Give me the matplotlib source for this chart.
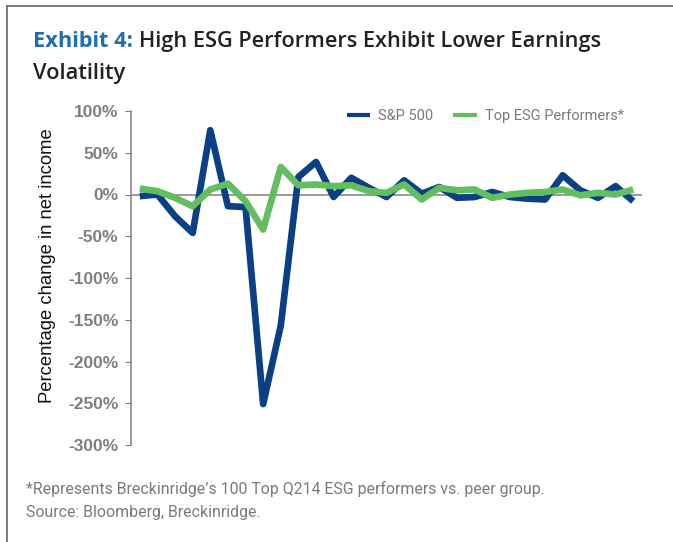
import matplotlib
matplotlib.use("Agg")
import matplotlib.pyplot as plt
from matplotlib.lines import Line2D
import matplotlib.transforms as mtransforms

quarters = list(range(29))
sp500 = [-2, 0, -26, -46, 77, -14, -15, -251, -157, 21, 39, -3, 20, 8, -3, 17,
         1, 9, -4, -3, 3, -3, -5, -6, 23, 5, -4, 10, -8]
esg = [7, 4, -4, -14, 6, 13, -8, -42, 33, 11, 12, 10, 11, 4, 2, 12,
       -6, 8, 5, 6, -4, 0, 2, 3, 6, -1, 2, 0, 6]
yticks = [100, 50, 0, -50, -100, -150, -200, -250, -300]
ytick_labels = [f"{v}%" for v in yticks]

narrow = 'Roboto'

W, H = 673, 542
fig = plt.figure(figsize=(W / 100, H / 100), dpi=100)
fig.patch.set_facecolor('white')

# frame lines (top and left)
fig.add_artist(Line2D([7 / W, 1], [1 - 6 / H, 1 - 6 / H], transform=fig.transFigure,
                      color='#666666', lw=1.2))
fig.add_artist(Line2D([7 / W, 7 / W], [0, 1 - 6 / H], transform=fig.transFigure,
                      color='#666666', lw=1.2))

ax = fig.add_axes([131 / W, (H - 445) / H, (642 - 131) / W, (445 - 111) / H])
blue = '#0B3F86'
green = '#63BE5F'
ax.axhline(0, color='#808080', lw=1.1, zorder=1)
ax.plot(quarters, sp500, color=blue, lw=4.8, solid_joinstyle='round', solid_capstyle='butt',
        label='S&P 500', zorder=2)
ax.plot(quarters, esg, color=green, lw=4.8, solid_joinstyle='round', solid_capstyle='butt',
        label='Top ESG Performers*', zorder=3)
ax.set_xlim(-0.5, 28.5)
ax.set_ylim(-300, 100)
ax.set_yticks(yticks)
ax.set_yticklabels(ytick_labels, fontsize=12.5, fontweight='bold', color='#7f7f7f',
                   family='Liberation Sans')
offset = mtransforms.ScaledTranslation(0, -4 / 100, fig.dpi_scale_trans)
for lab in ax.get_yticklabels():
    lab.set_transform(lab.get_transform() + offset)
ax.set_xticks([])
for s in ['top', 'right', 'bottom']:
    ax.spines[s].set_visible(False)
ax.spines['left'].set_color('#808080')
ax.spines['left'].set_linewidth(1.1)
ax.tick_params(axis='y', length=4, color='#808080', pad=5)
ax.set_ylabel('Percentage change in net income', fontsize=13.3, color='#111111',
              family='Liberation Sans')
ax.yaxis.set_label_coords(-0.147, 0.537)

leg = ax.legend(loc='upper right', bbox_to_anchor=(0.99, 1.045), ncol=2, frameon=False,
                handlelength=1.6, handletextpad=0.55, columnspacing=1.4,
                prop={'family': narrow, 'size': 10.5})
for t in leg.get_texts():
    t.set_color('#7a7a7a')
for l in leg.get_lines():
    l.set_linewidth(3)

# title
tx, ty = 33 / W, 1 - 47 / H
tsize = 15.7
t1 = fig.text(tx, ty, 'Exhibit 4:', color='#1F6DB4', fontsize=tsize, fontweight='bold',
              family='Open Sans', va='baseline')
fig.canvas.draw()
bb = t1.get_window_extent()
fig.text(bb.x1 / W + 6 / W, ty, 'High ESG Performers Exhibit Lower Earnings', color='#222222',
         fontsize=tsize, fontweight='semibold', family='Open Sans', va='baseline')
fig.text(tx, 1 - 79 / H, 'Volatility', color='#222222', fontsize=tsize, fontweight='semibold',
         family='Open Sans', va='baseline')

fig.text(26 / W, 1 - 494 / H,
         '*Represents Breckinridge\u2019s 100 Top Q214 ESG performers vs. peer group.',
         color='#7a7a7a', fontsize=11.4, family=narrow, va='baseline')
fig.text(26 / W, 1 - 517 / H, 'Source: Bloomberg, Breckinridge.',
         color='#7a7a7a', fontsize=11.4, family=narrow, va='baseline')

fig.savefig('out.png', dpi=100, facecolor='white')
